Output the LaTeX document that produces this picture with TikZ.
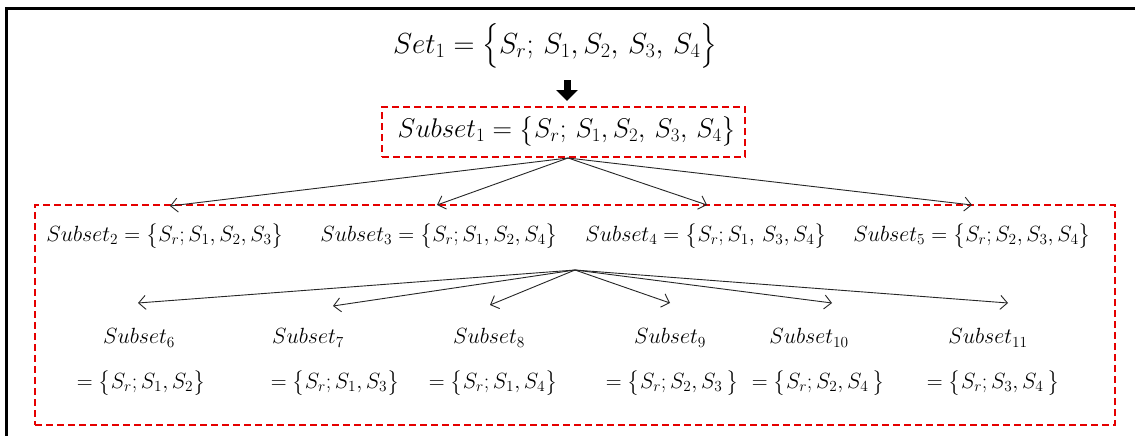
\documentclass[tikz,border=0pt]{standalone}
\usepackage{fix-cm}
\usepackage{amsmath}
\usetikzlibrary{arrows.meta}
\begin{document}
\begin{tikzpicture}[x=1pt,y=-1pt]
\tikzset{
  redbox/.style={draw=red!90!black, line width=1.6pt, dash pattern=on 7pt off 4pt},
  arr/.style={draw=black!85, line width=0.9pt, -{Straight Barb[length=7pt,width=14pt,line width=0.9pt]}},
  bigarr/.style={draw=black, line width=7pt, -{Triangle[length=11pt,width=21pt]}},
  lbl/.style={inner sep=0pt, font=\fontsize{22}{26}\selectfont},
  toplbl/.style={inner sep=0pt, font=\fontsize{29}{34}\selectfont},
}
\useasboundingbox (0,0) rectangle (1135,436);
\fill[white] (0,0) rectangle (1135,436);
% frame (top and left only)
\draw[line width=3pt] (6,436) -- (6,9) -- (1135,9);

% top
\node[toplbl] (set1) at (555,46) {$Set_1 = \bigl\{S_r;\, S_1,S_2,\, S_3,\, S_4\bigr\}$};
\coordinate (a1) at (567,80);
\coordinate (a2) at (567,101);
\draw[bigarr] (a1) -- (a2);

\node[redbox, minimum width=363pt, minimum height=50pt, inner sep=0pt] (sub1) at (563.5,132) {};
\node[toplbl, font=\fontsize{27}{32}\selectfont] (sub1t) at (567,131) {$Subset_1 = \bigl\{S_r;\, S_1,S_2,\, S_3,\, S_4\bigr\}$};

% group box
\node[redbox, minimum width=1080pt, minimum height=220pt, inner sep=0pt] (grp) at (575,315) {};

% row 2
\node[lbl] (s2) at (165,236) {$Subset_2 = \bigl\{S_r; S_1,S_2, S_3\bigr\}$};
\node[lbl] (s3) at (439,236) {$Subset_3 = \bigl\{S_r; S_1,S_2, S_4\bigr\}$};
\node[lbl] (s4) at (706,236) {$Subset_4 = \bigl\{S_r; S_1,\, S_3, S_4\bigr\}$};
\node[lbl] (s5) at (972,236) {$Subset_5 = \bigl\{S_r;S_2, S_3, S_4\bigr\}$};

% level 1 arrows
\coordinate (o1) at (568,158);
\coordinate (t2) at (170,206);
\coordinate (t3) at (437,205);
\coordinate (t4) at (707,205);
\coordinate (t5) at (972,205);
\foreach \t in {t2,t3,t4,t5} \draw[arr] (o1) -- (\t);

% row 3
\node[lbl] (s6) at (139,338) {$Subset_6$};
\node[lbl] (e6) at (138,383) {${}= \bigl\{S_r; S_1,S_2\bigr\}$};
\node[lbl] (s7) at (308,338) {$Subset_7$};
\node[lbl] (e7) at (332,383) {${}= \bigl\{S_r; S_1,S_3\bigr\}$};
\node[lbl] (s8) at (489,338) {$Subset_8$};
\node[lbl] (e8) at (490,383) {${}= \bigl\{S_r; S_1, S_4\bigr\}$};
\node[lbl] (s9) at (670,338) {$Subset_9$};
\node[lbl] (e9) at (669,383) {${}= \bigl\{S_r;S_2, S_3\,\bigr\}$};
\node[lbl] (s10) at (809,338) {$Subset_{10}$};
\node[lbl] (e10) at (815,383) {${}= \bigl\{S_r;S_2, S_4\,\bigr\}$};
\node[lbl] (s11) at (988,338) {$Subset_{11}$};
\node[lbl] (e11) at (990,383) {${}= \bigl\{S_r;S_3, S_4\,\bigr\}$};

% level 2 arrows
\coordinate (o2) at (575,270);
\coordinate (u6) at (138,303);
\coordinate (u7) at (333,306);
\coordinate (u8) at (490,305);
\coordinate (u9) at (670,303);
\coordinate (u10) at (832,303);
\coordinate (u11) at (1008,303);
\foreach \t in {u6,u7,u8,u9,u10,u11} \draw[arr] (o2) -- (\t);
\end{tikzpicture}
\end{document}
